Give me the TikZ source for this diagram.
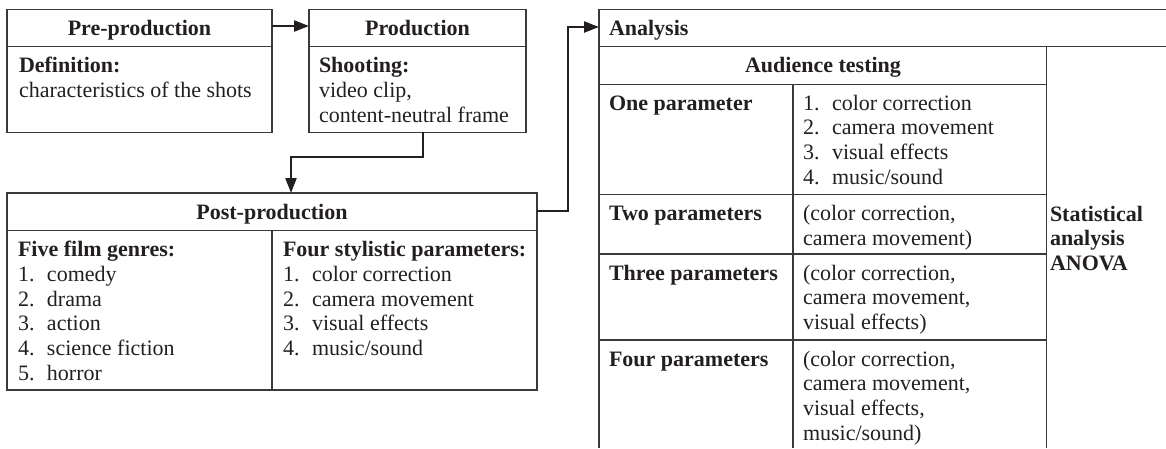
\documentclass[tikz,border=0pt]{standalone}
\usepackage{fontspec}
\setmainfont{Liberation Serif}
\usetikzlibrary{arrows.meta}
\definecolor{ink}{HTML}{231F20}
\definecolor{rulec}{HTML}{3A3A3A}
\tikzset{
  box/.style={draw=rulec, line width=1.4pt, inner sep=0pt, outer sep=0pt, anchor=north west},
  rl/.style={draw=rulec, line width=1.4pt},
  arr/.style={draw=ink, line width=2.3pt, -{Triangle[length=15pt,width=11pt]}},
  txt/.style={inner sep=0pt, outer sep=0pt, anchor=base west, text=ink, font=\fontsize{22pt}{24.7pt}\selectfont},
  bt/.style={txt, font=\fontsize{22pt}{24.7pt}\selectfont\bfseries},
  hd/.style={bt, anchor=base},
}
\begin{document}
\begin{tikzpicture}[x=1pt,y=-1pt]
\useasboundingbox (0,0) rectangle (1166,448);
% boxes
\node[box, minimum width=265pt, minimum height=122.8pt] (pre) at (7,9.5) {};
\draw[rl] (7,46.7) -- (272,46.7);
\node[box, minimum width=217pt, minimum height=122.8pt] (prod) at (309,9.5) {};
\draw[rl] (309,46.7) -- (526,46.7);
\node[box, minimum width=530pt, minimum height=197pt] (post) at (7,193) {};
\draw[rl] (7,230.7) -- (537,230.7);
\draw[rl] (272,230.7) -- (272,390);
% analysis frame
\draw[rl] (1166,9.5) -- (599,9.5) -- (599,448);
\draw[rl] (599,46.7) -- (1166,46.7);
\draw[rl] (1046.7,46.7) -- (1046.7,448);
\draw[rl] (599,84.3) -- (1046.7,84.3);
\draw[rl] (793,84.3) -- (793,448);
\draw[rl] (599,194.5) -- (1046.7,194.5);
\draw[rl] (599,254) -- (1046.7,254);
\draw[rl] (599,340) -- (1046.7,340);
\coordinate (anain) at (599,27);
% texts
\node[hd] (preh) at (139.5,35) {Pre-production};
\node[txt] (preb) at (19,72.7) {\begin{tabular}[t]{@{}l@{}}\textbf{Definition:}\\ characteristics of the shots\end{tabular}};
\node[hd] (prodh) at (417.5,35) {Production};
\node[txt] (prodb) at (319,72.7) {\begin{tabular}[t]{@{}l@{}}\textbf{Shooting:}\\ video clip,\\ content-neutral frame\end{tabular}};
\node[hd] (posth) at (272,219) {Post-production};
\node[txt] (postl) at (18,256.7) {\begin{tabular}[t]{@{}p{29pt}@{}l@{}}\multicolumn{2}{@{}l@{}}{\textbf{Five film genres:}}\\ 1. & comedy\\ 2. & drama\\ 3. & action\\ 4. & science fiction\\ 5. & horror\end{tabular}};
\node[txt] (postr) at (283,256.7) {\begin{tabular}[t]{@{}p{29pt}@{}l@{}}\multicolumn{2}{@{}l@{}}{\textbf{Four stylistic parameters:}}\\ 1. & color correction\\ 2. & camera movement\\ 3. & visual effects\\ 4. & music/sound\end{tabular}};
\node[bt] (anah) at (609,35) {Analysis};
\node[hd] (aud) at (823,72.8) {Audience testing};
\node[bt] (one) at (609,110) {One parameter};
\node[txt] (onel) at (803,110) {\begin{tabular}[t]{@{}p{29pt}@{}l@{}}1. & color correction\\ 2. & camera movement\\ 3. & visual effects\\ 4. & music/sound\end{tabular}};
\node[bt] (two) at (609,220.5) {Two parameters};
\node[txt] (twol) at (803,220.5) {\begin{tabular}[t]{@{}l@{}}(color correction,\\ camera movement)\end{tabular}};
\node[bt] (three) at (609,280) {Three parameters};
\node[txt] (threel) at (803,280) {\begin{tabular}[t]{@{}l@{}}(color correction,\\ camera movement,\\ visual effects)\end{tabular}};
\node[bt] (four) at (609,366) {Four parameters};
\node[txt] (fourl) at (803,366) {\begin{tabular}[t]{@{}l@{}}(color correction,\\ camera movement,\\ visual effects,\\ music/sound)\end{tabular}};
\node[bt] (stat) at (1050,221) {\begin{tabular}[t]{@{}l@{}}Statistical\\ analysis\\ ANOVA\end{tabular}};
% connectors
\draw[arr] ([yshift=-16.5pt]pre.north east) -- ([yshift=-16.5pt]prod.north west);
\coordinate (k1) at (423.3,157.3);
\draw[arr] (prod.south -| k1) -- (k1) -| ([xshift=19pt]post.north);
\coordinate (k2) at (567.7,27);
\draw[arr] ([yshift=-18pt]post.north east) -| (k2) -- (anain);
\end{tikzpicture}
\end{document}
